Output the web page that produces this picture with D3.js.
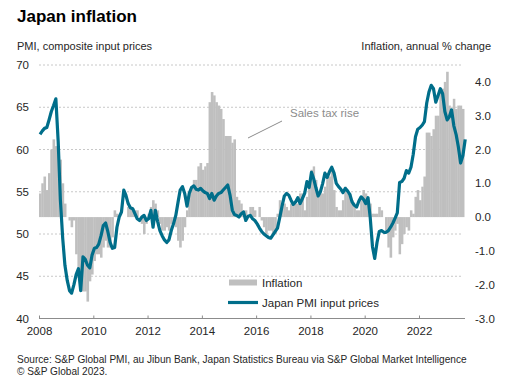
<!DOCTYPE html>
<html>
<head>
<meta charset="utf-8">
<script src="https://cdnjs.cloudflare.com/ajax/libs/d3/7.8.5/d3.min.js"></script>
<style>
  body { margin: 0; background: #fff; }
  svg { display: block; font-family: Arial, 'Liberation Sans', sans-serif; }
</style>
</head>
<body>
<script>
// monthly series, first month is Jan 2008
const startYear = 2008

// Japan PMI composite input prices index, Jan 2008 - Sep 2023
const pmiInputPrices = [
  61.8, 62.2, 62.5, 62.6, 63.5, 64.5, 65.2, 66.0, 61.0, 54.0, 49.5, 46.3,
  44.5, 43.3, 43.0, 44.0, 45.2, 45.9, 43.3, 47.3, 47.0, 46.3, 46.0, 47.5,
  48.3, 48.4, 48.8, 49.8, 51.0, 51.3, 50.3, 49.0, 48.3, 48.4, 50.8, 52.0,
  52.6, 55.2, 54.6, 53.6, 53.1, 53.0, 52.4, 51.8, 51.6, 52.0, 52.2, 51.6,
  51.8, 52.8, 50.8, 52.8, 51.5, 50.4, 49.8, 49.3, 49.0, 49.3, 50.4, 51.2,
  52.2, 53.8, 55.2, 55.6, 54.8, 53.3, 54.8, 55.5, 55.7, 55.3, 55.2, 55.4,
  55.1, 54.9, 54.8, 54.2, 54.8, 54.0, 54.5, 54.8, 54.9, 55.2, 55.5, 55.8,
  54.6, 52.8, 52.3, 52.2, 52.0, 52.4, 52.6, 51.6, 52.1, 52.2, 51.8, 51.6,
  51.2, 50.7, 50.3, 50.0, 49.8, 49.6, 49.5, 49.9, 50.3, 50.7, 52.0, 53.3,
  54.5, 54.8, 54.6, 54.0, 53.5, 53.8, 54.3, 53.6, 54.2, 54.8, 56.2, 55.5,
  57.3, 56.5, 55.5, 54.5, 55.0, 56.0, 57.2, 56.7, 57.4, 57.9, 57.2, 56.0,
  55.6, 55.3, 54.9, 55.4, 55.1, 54.7, 53.8, 53.4, 53.2, 53.9, 54.4, 54.1,
  53.6, 54.3, 52.0, 48.5, 47.1, 49.0, 50.3, 50.4, 50.2, 50.2, 50.4, 50.8,
  51.3, 51.9, 52.5, 56.1, 56.2, 56.6, 57.5, 57.2, 57.9, 59.4, 61.5, 62.4,
  62.6, 62.9, 63.3, 65.5, 66.8, 67.6, 67.2, 65.6, 66.4, 67.2, 66.6, 64.5,
  63.5, 63.9, 64.7, 62.8, 61.8, 60.3, 58.4, 59.3, 61.2
]

// consumer price inflation, annual % change, Jan 2008 - Aug 2023
const inflation = [
  0.7, 1.0, 1.2, 0.8, 1.3, 2.0, 2.3, 2.1, 2.1, 1.7, 1.0, 0.4,
  0.0, -0.1, -0.3, -0.1, -1.1, -1.8, -2.2, -2.2, -2.2, -2.5, -1.9, -1.7,
  -1.3, -1.1, -1.1, -1.2, -0.9, -0.7, -0.9, -0.9, -0.6, 0.2, 0.1, 0.0,
  0.0, 0.0, 0.0, 0.3, 0.3, 0.2, 0.2, 0.2, 0.0, -0.2, -0.5, -0.2,
  0.1, 0.3, 0.5, 0.4, 0.2, -0.2, -0.4, -0.4, -0.3, -0.4, -0.2, -0.1,
  -0.3, -0.7, -0.9, -0.7, -0.3, 0.2, 0.7, 0.9, 1.1, 1.1, 1.5, 1.6,
  1.4, 1.5, 1.6, 3.4, 3.7, 3.6, 3.4, 3.3, 3.2, 2.9, 2.4, 2.4,
  2.4, 2.2, 2.3, 0.6, 0.5, 0.4, 0.2, 0.2, 0.0, 0.3, 0.3, 0.2,
  0.0, 0.3, -0.1, -0.3, -0.5, -0.4, -0.4, -0.5, -0.5, 0.1, 0.5, 0.3,
  0.4, 0.3, 0.2, 0.4, 0.4, 0.4, 0.4, 0.7, 0.7, 0.2, 0.6, 1.0,
  1.4, 1.5, 1.1, 0.6, 0.7, 0.7, 0.9, 1.3, 1.2, 1.4, 0.8, 0.3,
  0.2, 0.2, 0.5, 0.9, 0.7, 0.7, 0.5, 0.3, 0.2, 0.2, 0.5, 0.8,
  0.7, 0.4, 0.4, 0.1, 0.1, 0.1, 0.3, 0.2, 0.0, -0.4, -0.9, -1.2,
  -0.6, -0.4, -0.2, -1.1, -0.8, -0.5, -0.3, -0.4, 0.2, 0.1, 0.6, 0.8,
  0.5, 0.9, 1.2, 2.5, 2.5, 2.4, 2.6, 3.0, 3.0, 3.7, 3.8, 4.0,
  4.3, 3.3, 3.2, 3.5, 3.2, 3.3, 3.3, 3.2
]

const yearTicks = [2008, 2010, 2012, 2014, 2016, 2018, 2020, 2022]
const pmiTicks = [40, 45, 50, 55, 60, 65, 70]
const inflationTicks = [-3, -2, -1, 0, 1, 2, 3, 4]

const width = 507
const height = 390
const teal = '#006e8a'
const barGrey = '#bfbfbf'
const textColor = '#262626'

const plot = { left: 39, right: 465, top: 65, bottom: 318.5 }

const svg = d3.select('body')
  .append('svg')
  .attr('width', width)
  .attr('height', height)

const x = d3.scaleTime()
  .domain([new Date(startYear, 0, 1), new Date(2024, 0, 1)])
  .range([plot.left, plot.left + 16 * 27.14])

const yLeft = d3.scaleLinear().domain([40, 70]).range([plot.bottom, plot.top])
const yRight = d3.scaleLinear().domain([-3, 4.5]).range([plot.bottom, plot.top])

// titles
svg.append('text')
  .attr('x', 17).attr('y', 22)
  .attr('font-size', 17).attr('font-weight', 'bold').attr('fill', '#000')
  .text('Japan inflation')

svg.append('text')
  .attr('x', 17).attr('y', 50)
  .attr('font-size', 11).attr('fill', textColor)
  .text('PMI, composite input prices')

svg.append('text')
  .attr('x', 491).attr('y', 50)
  .attr('text-anchor', 'end')
  .attr('font-size', 11).attr('fill', textColor)
  .text('Inflation, annual % change')

// gridlines
svg.append('g')
  .selectAll('line')
  .data(pmiTicks.filter(d => d > 40))
  .join('line')
  .attr('x1', plot.left).attr('x2', 463)
  .attr('y1', d => yLeft(d)).attr('y2', d => yLeft(d))
  .attr('stroke', '#c8c8c8')
  .attr('stroke-dasharray', '2,2')

// inflation bars
const monthStart = i => new Date(startYear, i, 1)
const monthMid = i => new Date(startYear, i, 15)

svg.append('g')
  .attr('fill', barGrey)
  .selectAll('rect')
  .data(inflation)
  .join('rect')
  .attr('x', (d, i) => x(monthStart(i)))
  .attr('width', (d, i) => x(monthStart(i + 1)) - x(monthStart(i)) + 0.3)
  .attr('y', d => Math.min(yRight(d), yRight(0)))
  .attr('height', d => Math.abs(yRight(d) - yRight(0)))

// PMI line
const line = d3.line()
  .x((d, i) => x(monthMid(i)))
  .y(d => yLeft(d))

svg.append('path')
  .datum(pmiInputPrices)
  .attr('fill', 'none')
  .attr('stroke', teal)
  .attr('stroke-width', 3.2)
  .attr('stroke-linejoin', 'round')
  .attr('d', line)

// axes
const leftAxis = svg.append('g')
  .attr('transform', `translate(${plot.left},0)`)
  .call(d3.axisLeft(yLeft).tickValues(pmiTicks).tickSize(0).tickPadding(10))
leftAxis.select('.domain').remove()

const rightAxis = svg.append('g')
  .attr('transform', `translate(465,0)`)
  .call(d3.axisRight(yRight).tickValues(inflationTicks).tickSize(0).tickPadding(10)
    .tickFormat(d => d.toFixed(1)))
rightAxis.select('.domain').remove()

const bottomAxis = svg.append('g')
  .attr('transform', `translate(0,${plot.bottom})`)
  .call(d3.axisBottom(x)
    .tickValues(yearTicks.map(y => new Date(y, 0, 1)))
    .tickFormat(d3.timeFormat('%Y'))
    .tickSizeInner(-3).tickSizeOuter(0).tickPadding(8))
bottomAxis.select('.domain').attr('stroke', '#8c8c8c').attr('d', `M${plot.left},0H${plot.right}`)
bottomAxis.selectAll('.tick line').attr('stroke', '#8c8c8c')

svg.selectAll('.tick text')
  .attr('font-size', 11.5)
  .attr('font-family', 'Arial, Liberation Sans, sans-serif')
  .attr('fill', textColor)

// annotation
svg.append('line')
  .attr('x1', 248).attr('y1', 138)
  .attr('x2', 282).attr('y2', 121)
  .attr('stroke', '#8c8c8c').attr('stroke-width', 1)

svg.append('text')
  .attr('x', 290).attr('y', 117)
  .attr('font-size', 11.5).attr('fill', '#8c8c8c')
  .text('Sales tax rise')

// legend
const legend = svg.append('g')
legend.append('rect')
  .attr('x', 229).attr('y', 279.5).attr('width', 28).attr('height', 6)
  .attr('fill', barGrey)
legend.append('text')
  .attr('x', 262).attr('y', 287)
  .attr('font-size', 11.5).attr('fill', textColor)
  .text('Inflation')
legend.append('line')
  .attr('x1', 228).attr('x2', 258).attr('y1', 302.5).attr('y2', 302.5)
  .attr('stroke', teal).attr('stroke-width', 3.2)
legend.append('text')
  .attr('x', 262).attr('y', 307)
  .attr('font-size', 11.5).attr('fill', textColor)
  .text('Japan PMI input prices')

// source
const source = svg.append('text')
  .attr('font-size', 10.1).attr('fill', textColor)
source.append('tspan')
  .attr('x', 17).attr('y', 363)
  .text('Source: S&P Global PMI, au Jibun Bank, Japan Statistics Bureau via S&P Global Market Intelligence')
source.append('tspan')
  .attr('x', 17).attr('y', 375)
  .text('© S&P Global 2023.')
</script>
</body>
</html>
